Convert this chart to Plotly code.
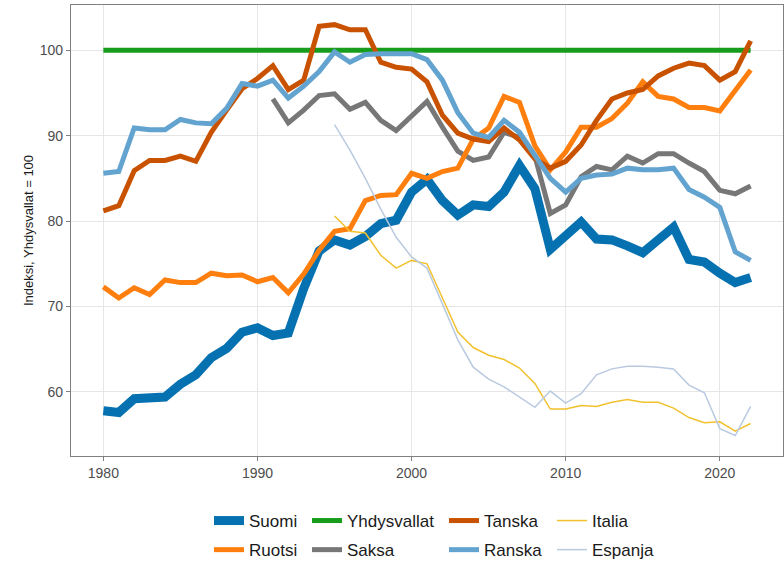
import plotly.graph_objects as go

years = list(range(1980, 2023))
years_de = list(range(1991, 2023))
years_it = list(range(1995, 2023))

suomi = [57.8, 57.6, 59.2, 59.2, 59.4, 60.9, 62.0, 64.0, 65.1, 67.0, 67.5, 66.6, 66.9, 72.1, 76.5,
         77.8, 77.2, 78.2, 79.7, 80.1, 83.4, 84.9, 82.4, 80.7, 81.9, 81.7, 83.4, 86.5, 83.8, 76.7,
         78.2, 79.9, 77.9, 77.8, 77.1, 76.3, 77.8, 79.3, 75.5, 75.2, 73.9, 72.8, 73.4]
ruotsi = [72.3, 71.0, 72.2, 71.4, 73.1, 72.8, 72.8, 73.9, 73.6, 73.7, 72.9, 73.4, 71.6, 73.8, 76.6,
          78.8, 79.1, 82.4, 83.0, 83.1, 85.6, 85.0, 85.8, 86.2, 89.6, 90.9, 94.6, 93.9, 88.8, 86.0,
          88.1, 91.0, 91.0, 92.0, 93.8, 96.3, 94.6, 94.3, 93.3, 93.3, 92.9, 95.3, 97.7]
yhdysvallat = [100.0] * len(years)
tanska = [81.2, 81.8, 85.9, 87.1, 87.1, 87.6, 87.0, 90.4, 93.0, 95.5, 96.7, 98.2, 95.4, 96.5, 102.8,
          103.0, 102.4, 102.4, 98.6, 98.0, 97.8, 96.3, 92.4, 90.3, 89.6, 89.3, 90.9, 89.5, 87.3, 86.2,
          87.0, 88.9, 91.8, 94.3, 95.0, 95.4, 97.0, 97.9, 98.5, 98.2, 96.5, 97.5, 101.1]
ranska = [85.6, 85.8, 90.9, 90.7, 90.7, 91.9, 91.5, 91.4, 93.2, 96.1, 95.8, 96.5, 94.4, 95.8, 97.5,
          99.8, 98.6, 99.5, 99.6, 99.6, 99.6, 98.9, 96.5, 92.7, 90.3, 89.8, 91.8, 90.4, 87.6, 85.0,
          83.4, 85.0, 85.4, 85.5, 86.2, 86.0, 86.0, 86.2, 83.7, 82.8, 81.6, 76.4, 75.4]
saksa = [94.3, 91.5, 93.0, 94.7, 94.9, 93.1, 93.9, 91.8, 90.6, 92.4, 94.0, 91.0, 88.2, 87.1, 87.5,
         90.4, 89.8, 87.6, 80.9, 81.9, 85.2, 86.4, 86.0, 87.6, 86.8, 87.9, 87.9, 86.8, 85.8, 83.6,
         83.2, 84.1]
italia = [80.6, 78.8, 78.6, 76.0, 74.5, 75.4, 75.0, 71.0, 67.0, 65.2, 64.3, 63.8, 62.8, 61.0, 58.0,
          58.0, 58.4, 58.3, 58.8, 59.1, 58.8, 58.8, 58.1, 57.0, 56.4, 56.5, 55.4, 56.3]
espanja = [91.3, 88.3, 85.0, 81.4, 78.1, 75.8, 74.5, 70.2, 66.1, 62.9, 61.5, 60.6, 59.4, 58.2, 60.1,
           58.7, 59.8, 62.0, 62.7, 63.0, 63.0, 62.9, 62.7, 60.8, 59.9, 55.7, 54.9, 58.3]

# (name, x, y, colour, width, legend) in drawing order
series = [
    ("Yhdysvallat", years, yhdysvallat, "#179C1C", 5, "legend2"),
    ("Saksa", years_de, saksa, "#777777", 5, "legend2"),
    ("Suomi", years, suomi, "#0571B0", 9, "legend"),
    ("Ruotsi", years, ruotsi, "#FF7F0E", 5, "legend"),
    ("Tanska", years, tanska, "#C85200", 5, "legend3"),
    ("Ranska", years, ranska, "#62A3D0", 5, "legend3"),
    ("Italia", years_it, italia, "#F2C12E", 1.5, "legend4"),
    ("Espanja", years_it, espanja, "#B9CAE0", 1.5, "legend4"),
]
rank = {"Suomi": 1, "Ruotsi": 2, "Yhdysvallat": 1, "Saksa": 2,
        "Tanska": 1, "Ranska": 2, "Italia": 1, "Espanja": 2}

fig = go.Figure()
for name, x, y, col, w, leg in series:
    fig.add_trace(go.Scatter(x=x, y=y, name=name, mode="lines", legend=leg,
                             legendrank=rank[name], legendgroup=name,
                             line=dict(color=col, width=w, shape="linear")))

W, H = 784, 561
ml, mr, mt, mb = 71, 1, 5, 105
pw, ph = W - ml - mr, H - mt - mb


def lx(px):
    return (px - ml) / pw


ly = (mt + ph - 503) / ph
legfont = dict(family="Liberation Sans, Arial, sans-serif", size=17, color="#1a1a1a")
legcommon = dict(orientation="v", yanchor="top", y=ly, xanchor="left",
                 font=legfont, bgcolor="rgba(0,0,0,0)", tracegroupgap=4,
                 traceorder="grouped")
fig.update_layout(
    width=W, height=H,
    margin=dict(l=ml, r=mr, t=mt, b=mb, autoexpand=False),
    plot_bgcolor="white", paper_bgcolor="white",
    font=dict(family="Liberation Sans, Arial, sans-serif", color="#4d4d4d", size=14),
    legend=dict(x=lx(209), **legcommon),
    legend2=dict(x=lx(307), **legcommon),
    legend3=dict(x=lx(444), **legcommon),
    legend4=dict(x=lx(552), **legcommon),
    xaxis=dict(range=[1977.9, 2024.1], tickvals=[1980, 1990, 2000, 2010, 2020],
               showgrid=True, gridcolor="#e6e6e6", gridwidth=1.2, zeroline=False,
               showline=True, linecolor="#808080", linewidth=1.2, mirror=True,
               ticks="outside", ticklen=4, tickcolor="#808080", automargin=False,
               tickfont=dict(size=14, color="#4d4d4d")),
    yaxis=dict(range=[52.5, 105.3], tickvals=[60, 70, 80, 90, 100],
               showgrid=True, gridcolor="#e6e6e6", gridwidth=1.2, zeroline=False,
               showline=True, linecolor="#808080", linewidth=1.2, mirror=True,
               ticks="outside", ticklen=4, tickcolor="#808080", automargin=False,
               tickfont=dict(size=14, color="#4d4d4d"),
               title=dict(text="Indeksi, Yhdysvallat = 100", standoff=3,
                          font=dict(size=13, color="#1a1a1a"))),
)

fig.write_html("out.html", config={"displayModeBar": False},
               post_script="document.body.style.margin='0';")
